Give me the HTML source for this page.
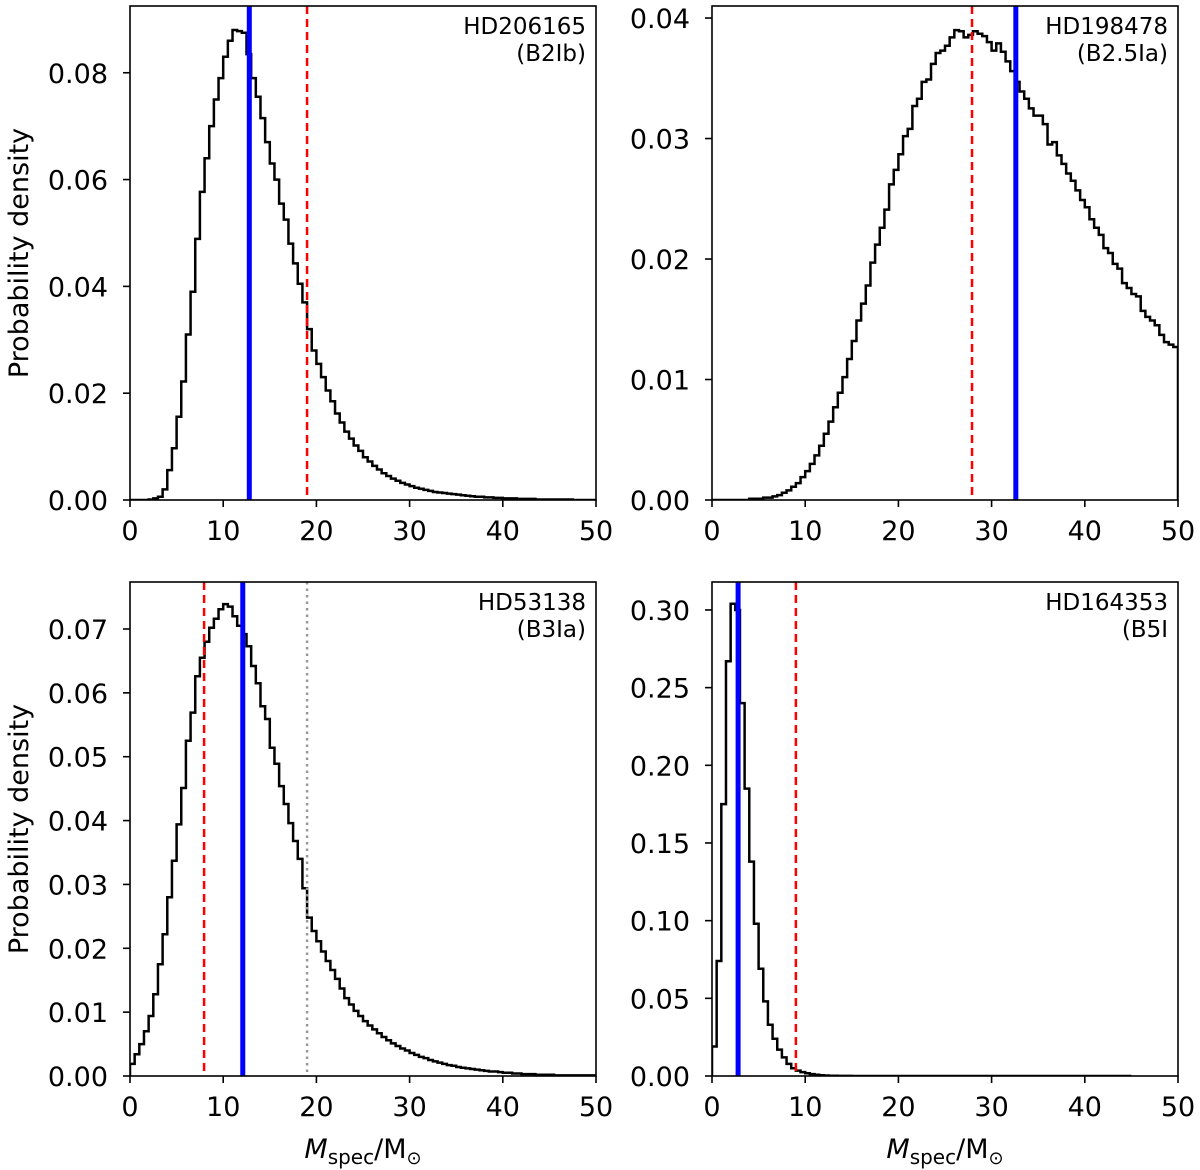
<!DOCTYPE html>
<html><head><meta charset="utf-8">
<style>
html,body{margin:0;padding:0;background:#fff;}
svg{display:block;font-family:"DejaVu Sans","Liberation Sans",sans-serif;}
</style></head>
<body>
<svg id="fig" width="1200" height="1170" viewBox="0 0 1200 1170" xmlns="http://www.w3.org/2000/svg"></svg>
<script>
// Shared data
const binWidth = 0.5;
const xTicks = [0, 10, 20, 30, 40, 50];

// Panel 1: HD206165
const p1Density = [0,0,0,0,0.0001,0.0003,0.0006,0.002,0.0056,0.0097,
0.0156,0.0222,0.031,0.039,0.0489,0.0577,0.064,0.07,0.075,0.079,
0.083,0.086,0.088,0.0878,0.0875,0.0835,0.079,0.0755,0.0715,0.067,
0.063,0.06,0.0555,0.0525,0.048,0.0443,0.0405,0.037,0.032,0.028,
0.0255,0.023,0.0205,0.0185,0.0162,0.0145,0.0128,0.0115,0.0102,0.0092,
0.008,0.0072,0.0064,0.0057,0.005,0.0045,0.004,0.0036,0.0032,0.0029,
0.0026,0.0023,0.0021,0.0019,0.0017,0.0015,0.0014,0.0013,0.0012,0.0011,
0.001,0.0009,0.0008,0.0007,0.0006,0.0006,0.0005,0.0005,0.0004,0.0004,
0.0003,0.0003,0.0003,0.0002,0.0002,0.0002,0.0002,0.0001,0.0001,0.0001,
0.0001,0.0001,0.0001,0.0001,0.0001,0,0,0,0,0];
const p1YTicks = [0, 0.02, 0.04, 0.06, 0.08];
const p1Blue = 12.8, p1Red = 19.0;

// Panel 2: HD198478
const p2Density = [0,0,0,0,0,0,0,0,0.0001,0.0001,
0.0001,0.0002,0.0002,0.0003,0.0004,0.0006,0.0008,0.0011,0.0014,0.0019,
0.0024,0.003,0.0037,0.0045,0.0055,0.0065,0.0077,0.0089,0.0102,0.0117,
0.0132,0.0149,0.0163,0.0178,0.0197,0.0212,0.0226,0.0241,0.0262,0.0274,
0.0287,0.0302,0.0308,0.0327,0.0333,0.0347,0.0349,0.0362,0.0371,0.0373,
0.0377,0.0384,0.039,0.0389,0.0384,0.0386,0.0389,0.0387,0.0385,0.038,
0.0373,0.0379,0.0372,0.0364,0.0356,0.0347,0.0339,0.0333,0.0325,0.0319,
0.0319,0.0312,0.0295,0.0297,0.0286,0.0279,0.0271,0.0265,0.0257,0.0249,
0.0243,0.0233,0.0226,0.022,0.0209,0.0205,0.0196,0.0192,0.018,0.0176,
0.0171,0.0169,0.0157,0.0152,0.0149,0.0145,0.0137,0.0131,0.0129,0.0127];
const p2YTicks = [0, 0.01, 0.02, 0.03, 0.04];
const p2Blue = 32.6, p2Red = 27.9;

// Panel 3: HD53138
const p3Density = [0.0019,0.0034,0.005,0.007,0.0094,0.0128,0.0175,0.0222,0.028,0.0337,
0.0394,0.0451,0.0525,0.0569,0.0626,0.0655,0.068,0.0702,0.0716,0.0731,
0.0739,0.0735,0.072,0.0705,0.0692,0.0673,0.0642,0.0615,0.0579,0.0559,
0.0514,0.0489,0.0454,0.0426,0.0396,0.0368,0.034,0.0294,0.0248,0.0227,
0.0211,0.0195,0.018,0.0166,0.0152,0.0137,0.0122,0.0112,0.0102,0.0094,
0.0086,0.0079,0.0073,0.0067,0.0061,0.0056,0.0051,0.0047,0.0043,0.004,
0.0036,0.0033,0.003,0.0028,0.0025,0.0023,0.0021,0.0019,0.0017,0.0016,
0.0014,0.0013,0.0012,0.0011,0.001,0.0009,0.0008,0.0007,0.0007,0.0006,
0.0005,0.0005,0.0004,0.0004,0.0003,0.0003,0.0003,0.0002,0.0002,0.0002,
0.0002,0.0001,0.0001,0.0001,0.0001,0.0001,0.0001,0.0001,0.0001,0.0001];
const p3YTicks = [0, 0.01, 0.02, 0.03, 0.04, 0.05, 0.06, 0.07];
const p3Blue = 12.1, p3Red = 7.95, p3Grey = 19.0;

// Panel 4: HD164353
const p4Density = [0.019,0.074,0.175,0.267,0.304,0.30,0.24,0.185,0.138,0.098,
0.069,0.048,0.033,0.024,0.017,0.012,0.0078,0.005,0.0035,0.0025,
0.0018,0.0012,0.0008,0.0005,0.0003,0.0002,0.0002,0.0001,0.0001,0.0001,
0,0,0,0,0,0,0,0,0,0,0,0,0,0,0,0,0,0,0,0,
0,0,0,0,0,0,0,0,0,0,0,0,0,0,0,0,0,0,0,0,
0,0,0,0,0,0,0,0,0,0,0,0,0,0,0,0,0,0,0,0];
const p4YTicks = [0, 0.05, 0.10, 0.15, 0.20, 0.25, 0.30];
const p4Blue = 2.8, p4Red = 9.0;

const NS = "http://www.w3.org/2000/svg";
const fig = document.getElementById('fig');
function mk(tag, attrs, parent) {
  const e = document.createElementNS(NS, tag);
  for (const k in attrs) e.setAttribute(k, attrs[k]);
  (parent || fig).appendChild(e);
  return e;
}

function drawPanel(id, box, ymax, density, yTicks, yDec, lines, title, subtitle, showYLabel, showXLabel) {
  const g = mk('g', {});
  
  
  const x = v => box.x0 + (v / 50) * (box.x1 - box.x0);
  const y = v => box.y1 - (v / ymax) * (box.y1 - box.y0);

  let d = 'M' + x(0) + ',' + y(0);
  density.forEach((v, i) => {
    d += ' L' + x(i * binWidth) + ',' + y(v) + ' L' + x((i + 1) * binWidth) + ',' + y(v);
  });
  d += ' L' + x(density.length * binWidth) + ',' + y(0);
  const clipId = id + '-clip';
  const cp = mk('clipPath', {id: clipId}, g);
  mk('rect', {x: box.x0, y: box.y0, width: box.x1 - box.x0, height: box.y1 - box.y0}, cp);
  const hist = mk('path', {d: d, fill: 'none', stroke: '#000', 'stroke-width': 2.5, 'clip-path': 'url(#' + clipId + ')'}, g);
  
  

  lines.forEach(L => {
    const attrs = {x1: x(L.v), x2: x(L.v), y1: box.y0, y2: box.y1, stroke: L.color, 'stroke-width': L.w};
    if (L.dash) attrs['stroke-dasharray'] = L.dash;
    const ln = mk('line', attrs, g);
    
    
  });

  const fr = mk('rect', {x: box.x0, y: box.y0, width: box.x1 - box.x0, height: box.y1 - box.y0, fill: 'none', stroke: '#000', 'stroke-width': 1.6}, g);
  
  

  xTicks.forEach(t => {
    const tk = mk('line', {x1: x(t), x2: x(t), y1: box.y1, y2: box.y1 + 7, stroke: '#000', 'stroke-width': 1.6}, g);
    
    
    const tl = mk('text', {x: x(t), y: box.y1 + 40, 'font-size': 27, 'text-anchor': 'middle', fill: '#000'}, g);
    tl.textContent = String(t);
    
    
  });
  yTicks.forEach(t => {
    const tk = mk('line', {x1: box.x0 - 7, x2: box.x0, y1: y(t), y2: y(t), stroke: '#000', 'stroke-width': 1.6}, g);
    
    
    const tl = mk('text', {x: box.x0 - 22, y: y(t) + 10, 'font-size': 27, 'text-anchor': 'end', fill: '#000'}, g);
    tl.textContent = t.toFixed(yDec);
    
    
  });

  const t1 = mk('text', {x: box.x1 - 10, y: box.y0 + 28, 'font-size': 23, 'text-anchor': 'end', fill: '#000'}, g);
  t1.textContent = title;
  
  
  const t2 = mk('text', {x: box.x1 - 10, y: box.y0 + 55, 'font-size': 23, 'text-anchor': 'end', fill: '#000'}, g);
  t2.textContent = subtitle;
  
  

  if (showYLabel) {
    const cy = (box.y0 + box.y1) / 2;
    const yl = mk('text', {x: 28, y: cy, 'font-size': 27, 'text-anchor': 'middle', transform: 'rotate(-90 28 ' + cy + ')', fill: '#000'}, g);
    yl.textContent = 'Probability density';
    
    
  }
  if (showXLabel) {
    const cx = (box.x0 + box.x1) / 2;
    const xl = mk('text', {x: cx, y: box.y1 + 82, 'font-size': 27, 'text-anchor': 'middle', fill: '#000'}, g);
    xl.innerHTML = '<tspan font-style="italic">M</tspan><tspan font-size="20" dy="6">spec</tspan><tspan dy="-6">/M</tspan><tspan font-size="18" dy="6">⊙</tspan>';
    
    
  }
}

const blue = (v) => ({v: v, color: '#0000ff', w: 5, name: 'blue-marker'});
const red = (v) => ({v: v, color: '#ff0000', w: 2.5, dash: '8 5', name: 'red-dashed-marker'});

drawPanel('hd206165', {x0: 130, x1: 596, y0: 6, y1: 500}, 0.0925, p1Density, p1YTicks, 2,
  [blue(p1Blue), red(p1Red)], 'HD206165', '(B2Ib)', true, false);
drawPanel('hd198478', {x0: 712, x1: 1178, y0: 6, y1: 500}, 0.041, p2Density, p2YTicks, 2,
  [blue(p2Blue), red(p2Red)], 'HD198478', '(B2.5Ia)', false, false);
drawPanel('hd53138', {x0: 130, x1: 596, y0: 582, y1: 1076}, 0.07736, p3Density, p3YTicks, 2,
  [{v: p3Grey, color: '#999999', w: 2.5, dash: '2.5 4', name: 'grey-dotted-marker'}, red(p3Red), blue(p3Blue)], 'HD53138', '(B3Ia)', true, true);
drawPanel('hd164353', {x0: 712, x1: 1178, y0: 582, y1: 1076}, 0.318, p4Density, p4YTicks, 2,
  [blue(p4Blue), red(p4Red)], 'HD164353', '(B5I', false, true);
</script>
</body></html>
